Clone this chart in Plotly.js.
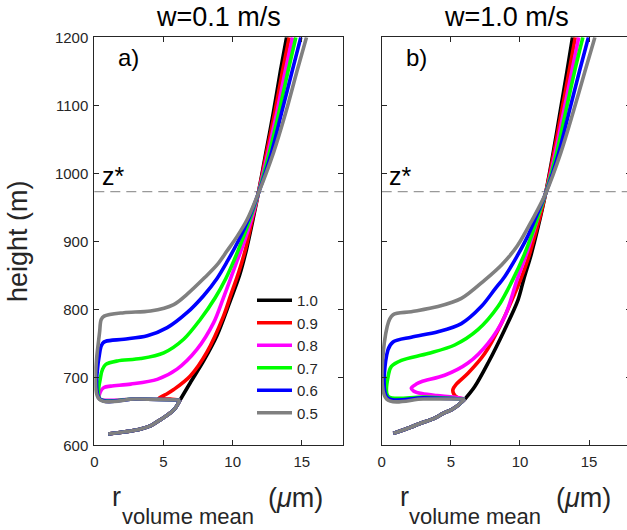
<!DOCTYPE html>
<html><head><meta charset="utf-8">
<script src="https://cdn.plot.ly/plotly-3.0.1.min.js"></script>
<style>html,body{margin:0;padding:0;overflow:hidden;background:#fff}#c{width:631px;height:530px}</style>
</head><body><div id="c"></div><script>
// ---------- data ----------
const labels = ['1.0','0.9','0.8','0.7','0.6','0.5'];
const panelTitles = ['w=0.1 m/s','w=1.0 m/s'];
const panelTags = ['a)','b)'];
const xTitleParts = ['r','volume mean','(<i>μ</i>m)'];
const yTitle = 'height (m)';
const xTicks = [0,5,10,15];
const zStar = 973;
const upperH = [1030,1090,1150,1200];

// panel a (w=0.1) : shared sub-cloud branch, then each curve
const aBaseR = [1.0,2.2,3.3,4.1,4.75,5.35,5.84,6.2];
const aBaseH = [616.6,619.8,623.7,629,637.2,645.5,654.4,666.6];
const a10R = [6.94,7.9,8.86,9.82,10.5,11.0,11.45,11.85, 12.4,12.95,13.45,13.9];
const a10H = [692,724,761,812,850,888,930,970];
const a09R = [5.5,4.66,5.2,5.74,6.94,8.14,9.34,9.85,10.45,10.95,11.4,11.85, 12.45,13.05,13.6,14.09];
const a09H = [668,669,675,682,702,737,790,820,855,890,930,970];
const a08R = [3,0.4,0.42,0.7,1.19,2.63,4.55,5.98,7.42,8.62,9.3,9.85,10.3,10.85,11.4,11.85, 12.55,13.2,13.8,14.33];
const a08H = [668,668,678,685,687,690,697,712,741,780,815,845,870,900,935,970];
const a07R = [3,0.4,0.45,0.6,0.83,1.67,3.35,5.02,6.46,7.66,8.74,9.5,10.1,10.7,11.3,11.85, 12.65,13.35,14.0,14.57];
const a07H = [668,668,700,712,719,724,727.5,736,756,785,817,845,872,902,935,970];
const a06R = [3,0.4,0.42,0.6,0.83,2.14,3.83,5.27,6.7,7.9,8.86,9.6,10.4,11.2,11.85, 12.8,13.55,14.3,14.93];
const a06H = [668,668,740,750,753,756,761,773,795,820,845,870,900,935,970];
const a05R = [3,0.35,0.4,0.5,0.71,2.14,4.06,5.74,6.7,8.0,8.9,9.6,10.35,11.05,11.85, 12.95,13.85,14.65,15.34];
const a05H = [668,668,770,785,790,795,797.5,807,822,847,866,886,908,932,970];

// panel b (w=1.0)
const bBaseR = [0.84,2.14,2.77,3.83,4.45,5.03,5.54,6.02];
const bBaseH = [617.6,627,632,640,647,652,659,668];
const b10R = [6.72,7.69,8.89,9.86,10.27,10.8,11.3,11.85, 12.4,12.9,13.4,13.8];
const b10H = [686,721,770,814,844,880,920,970];
const b09R = [5.5,5.2,5.15,5.4,6.24,7.45,8.65,9.62,10.05,10.6,11.1,11.5,11.85, 12.45,13.0,13.55,14.0];
const b09H = [670,676,682,690,706,735,779,823,844,875,910,940,970];
const b08R = [5.2,4.0,2.9,2.3,2.14,2.5,2.86,4.55,6.24,7.69,8.89,9.8,10.45,11.0,11.45,11.85, 12.55,13.15,13.75,14.25];
const b08H = [671,673,676,680,684,690,693.5,703,721,750,789,844,880,915,945,970];
const b07R = [3,0.46,0.5,0.7,1.42,3.35,5.28,6.96,8.41,9.49,10.3,10.95,11.45,11.85, 12.65,13.3,13.95,14.55];
const b07H = [671,672,705,716,725,735,747.5,770,804,844,880,915,945,970];
const b06R = [3,0.42,0.45,0.82,2.14,4.07,5.76,7.2,8.2,8.89,9.7,10.5,11.25,11.85, 12.8,13.55,14.3,14.95];
const b06H = [670,670,740,752,759,767,779,804,830,848,875,905,940,970];
const b05R = [3,0.35,0.4,0.82,2.14,4.07,5.76,7.45,8.7,9.8,10.9,11.85, 12.95,13.85,14.7,15.42];
const b05H = [668,668,775,792,796.5,804,816,843,866,893,932,970];

// ---------- styles ----------
const colors = ['#000000','#ff0000','#ff00ff','#00ff00','#0000ff','#808080'];
const FONT = 'Liberation Sans, Arial, sans-serif';
const INK = '#262626';

const aSeries = [[a10R,a10H],[a09R,a09H],[a08R,a08H],[a07R,a07H],[a06R,a06H],[a05R,a05H]];
const bSeries = [[b10R,b10H],[b09R,b09H],[b08R,b08H],[b07R,b07H],[b06R,b06H],[b05R,b05H]];

const traces = [];
function add(series, baseR, baseH, xa, ya, leg){
  const n = baseR.length;
  series.forEach((s,i)=>{
    const line = {color:colors[i], width:3.6, shape:'spline', smoothing:0.9};
    // sub-cloud branch (common to every curve)
    traces.push({x:baseR, y:baseH, type:'scatter', mode:'lines', name:labels[i],
      showlegend:false, legendgroup:labels[i], xaxis:xa, yaxis:ya, line:line});
    // in-cloud part, starting from the end of the branch
    const r = [baseR[n-1]].concat(s[0]);
    const h = [baseH[n-1]].concat(s[1]).concat(upperH);
    traces.push({x:r, y:h, type:'scatter', mode:'lines', name:labels[i],
      showlegend:leg, legendgroup:labels[i], xaxis:xa, yaxis:ya, line:line});
  });
}
add(aSeries, aBaseR, aBaseH, 'x', 'y', true);
add(bSeries, bBaseR, bBaseH, 'x2', 'y2', false);

const W = 631, H = 530;
const ax = {range:[0,18], tickvals:xTicks, ticks:'inside', ticklen:5, tickcolor:INK,
  mirror:'ticks', showline:true, linecolor:INK, linewidth:1, showgrid:false, zeroline:false,
  ticklabelstandoff:3, tickfont:{family:FONT, size:15, color:INK}};
const ay = {range:[600,1200], dtick:100, ticks:'inside', ticklen:5, tickcolor:INK,
  mirror:'ticks', showline:true, linecolor:INK, linewidth:1, showgrid:false, zeroline:false,
  ticklabelstandoff:2, tickfont:{family:FONT, size:15, color:INK}};

const yDom = [1-445.3/H, 1-37.3/H];
const layout = {
  width:W, height:H, margin:{l:0,r:0,t:0,b:0}, paper_bgcolor:'#fff', plot_bgcolor:'#fff',
  font:{family:FONT, color:INK},
  xaxis:Object.assign({}, ax, {domain:[94.3/W, 343.3/W], anchor:'y'}),
  yaxis:Object.assign({}, ay, {domain:yDom, anchor:'x',
     title:{text:yTitle, font:{family:FONT, size:27, color:INK}, standoff:19}}),
  xaxis2:Object.assign({}, ax, {domain:[381.7/W, 630.6/W], anchor:'y2'}),
  yaxis2:Object.assign({}, ay, {domain:yDom, anchor:'x2', showticklabels:false}),
  showlegend:true,
  legend:{x:(257)/W, y:1-284/H, xanchor:'left', yanchor:'top', bgcolor:'rgba(0,0,0,0)',
     font:{family:FONT, size:15, color:INK}, tracegroupgap:0, itemwidth:30},
  shapes:[
    {type:'line', xref:'x domain', x0:0, x1:1, yref:'y', y0:zStar, y1:zStar, layer:'below',
     line:{color:'#999999', width:1.3, dash:'10px,6px'}},
    {type:'line', xref:'x2 domain', x0:0, x1:1, yref:'y2', y0:zStar, y1:zStar, layer:'below',
     line:{color:'#999999', width:1.3, dash:'10px,6px'}}
  ],
  annotations:[]
};
['x','x2'].forEach((xa,k)=>{
  const ya = k===0 ? 'y' : 'y2';
  const xd = xa+' domain';
  layout.annotations.push({xref:xd, x:0.5, yref:'paper', y:1-17/H, yanchor:'middle',
    text:panelTitles[k], showarrow:false, font:{family:FONT, size:27, color:'#000'}});
  layout.annotations.push({xref:xa, x:2.5, yref:ya, y:1171, xanchor:'center', yanchor:'middle',
    text:panelTags[k], showarrow:false, font:{family:FONT, size:24, color:'#000'}});
  layout.annotations.push({xref:xa, x:0.4, yref:ya, y:zStar, xanchor:'left', yanchor:'bottom',
    text:'z*', showarrow:false, font:{family:FONT, size:25, color:'#000'}});
  // x-axis title: r with a large lowered subscript, then the unit
  layout.annotations.push({xref:xd, x:0.09, yref:'paper', y:1-497/H, xanchor:'center', yanchor:'middle',
    text:xTitleParts[0], showarrow:false, font:{family:FONT, size:27, color:INK}});
  layout.annotations.push({xref:xd, x:0.375, yref:'paper', y:1-516/H, xanchor:'center', yanchor:'middle',
    text:xTitleParts[1], showarrow:false, font:{family:FONT, size:22, color:INK}});
  layout.annotations.push({xref:xd, x:0.81, yref:'paper', y:1-498/H, xanchor:'center', yanchor:'middle',
    text:xTitleParts[2], showarrow:false, font:{family:FONT, size:27, color:INK}});
});
Plotly.newPlot('c', traces, layout, {displayModeBar:false, staticPlot:true}).then(()=>{
  // lengthen legend line samples to match the reference's long legend strokes
  document.querySelectorAll('.legend .legendlines path').forEach(p=>p.setAttribute('d','M-22,0h57'));
});
</script></body></html>
